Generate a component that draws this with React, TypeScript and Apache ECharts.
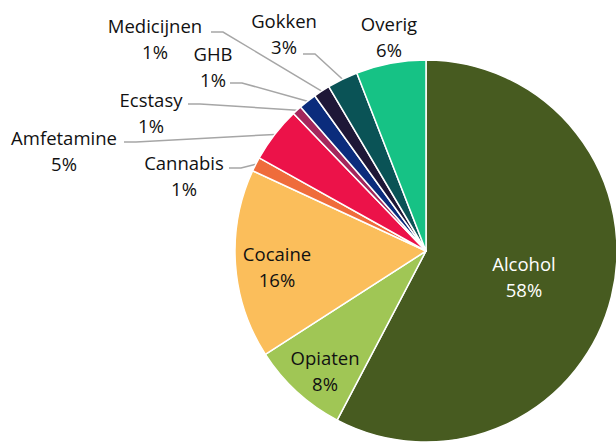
import React, { useEffect, useRef } from "react";
import * as echarts from "echarts";

const categories = ["Alcohol", "Opiaten", "Cocaine", "Cannabis", "Amfetamine", "Ecstasy", "GHB", "Medicijnen", "Gokken", "Overig"];
const shares = [57.7, 8.2, 16.0, 1.2, 4.7, 0.8, 1.5, 1.4, 2.6, 5.9];
const colors = ["#475b20", "#a0c655", "#fbbe5b", "#ef6c3b", "#ec1249", "#a3275c", "#0b2c7c", "#1e1737", "#0a5356", "#16c285"];
const labelColors = ["#ffffff", "#111111", "#111111", "#111111", "#111111", "#111111", "#111111", "#111111", "#111111", "#111111"];

// label layout (centre of label block) and leader-line attach point
const labelCenters: number[][] = [[524, 276], [325, 370], [277, 266], [184, 175], [64, 150], [151, 112], [213, 66], [155, 38], [284, 33], [389, 36]];
const lineAttach: (number[] | null)[] = [null, null, null, [229, 168], [124, 142], [188, 104], [230, 83], [211, 32], [303, 54], null];

export default function App() {
  const ref = useRef<HTMLDivElement>(null);
  useEffect(() => {
    if (!ref.current) return;
    const chart = echarts.init(ref.current, undefined, { renderer: "svg" });
    const data = categories.map((name, i) => ({
      name,
      value: shares[i],
      itemStyle: { color: colors[i] },
      label: { color: labelColors[i] },
      labelLine: { show: lineAttach[i] != null },
    }));
    chart.setOption({
      animation: false,
      series: [
        {
          type: "pie",
          center: [426, 251],
          radius: [0, 191],
          startAngle: 90,
          clockwise: true,
          avoidLabelOverlap: false,
          percentPrecision: 0,
          itemStyle: { borderColor: "#ffffff", borderWidth: 1.5 },
          label: {
            show: true,
            position: "outside",
            formatter: "{b}\n{d}%",
            fontFamily: "'Open Sans', sans-serif",
            fontSize: 18.5,
            lineHeight: 26,
            align: "center",
          },
          labelLine: {
            show: true,
            lineStyle: { color: "#a6a6a6", width: 1.5 },
          },
          labelLayout: (params: any) => {
            const i = params.dataIndex;
            const c = labelCenters[i];
            const res: any = { x: c[0], y: c[1], align: "center", verticalAlign: "middle" };
            const a = lineAttach[i];
            if (a && params.labelLinePoints) {
              const p0 = params.labelLinePoints[0];
              res.labelLinePoints = [p0, [a[0] + 12, a[1]], [a[0], a[1]]];
            }
            return res;
          },
          data,
        },
      ],
    });
    return () => chart.dispose();
  }, []);
  return (
    <div
      ref={ref}
      style={{ position: "absolute", left: 0, top: 0, width: 616, height: 442, background: "#ffffff" }}
    />
  );
}
